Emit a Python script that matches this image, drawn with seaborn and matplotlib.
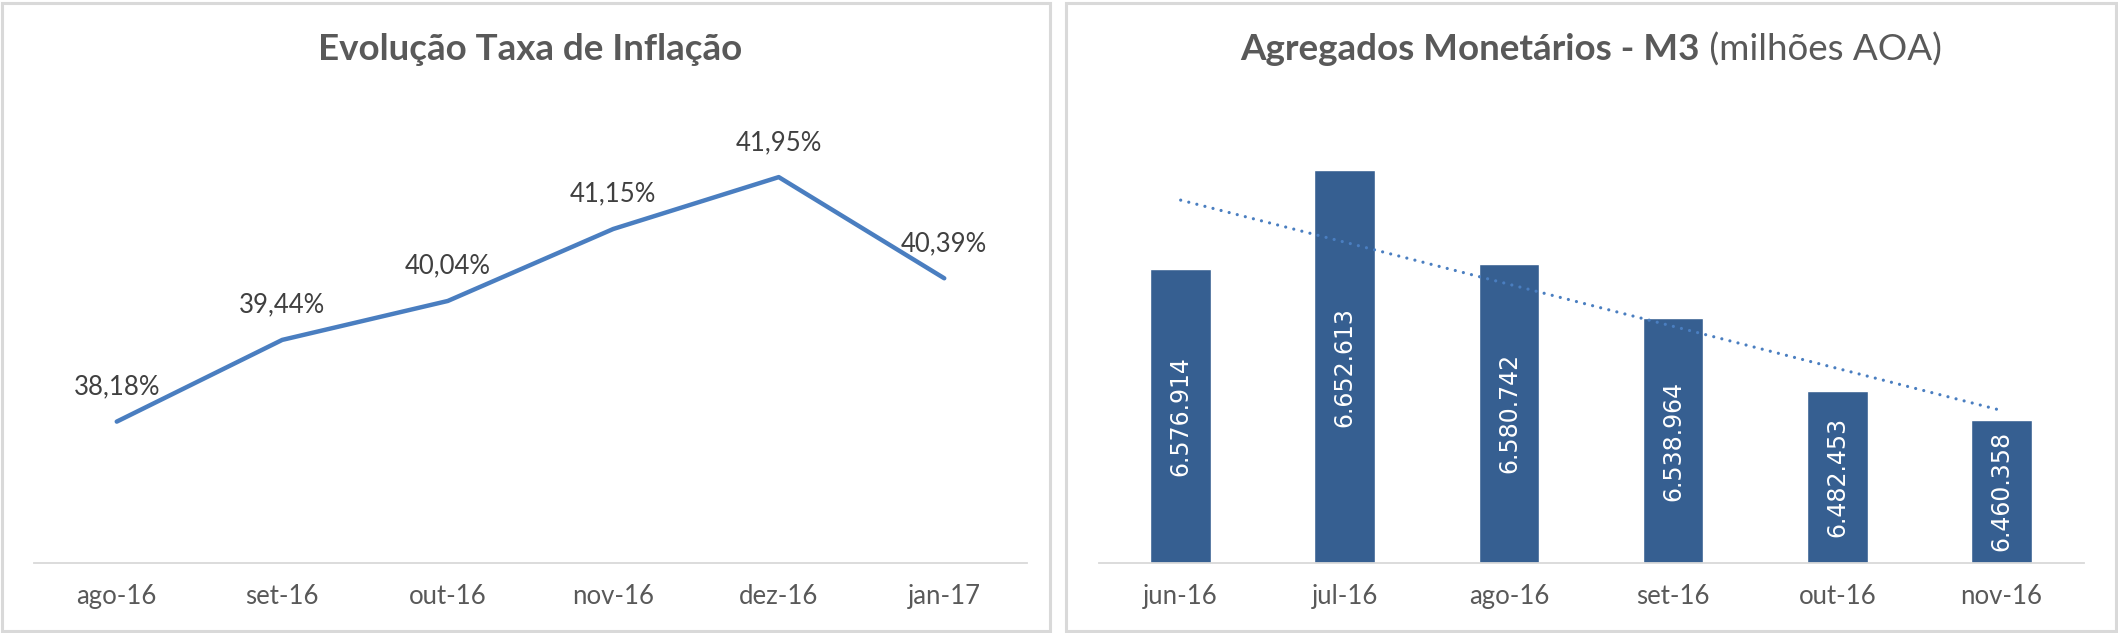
import matplotlib
matplotlib.use("Agg")
import matplotlib.pyplot as plt
from matplotlib.patches import Rectangle
import seaborn as sns
import pandas as pd
import numpy as np


# inflation data (left chart)
meses_inflacao = ["ago-16", "set-16", "out-16", "nov-16", "dez-16", "jan-17"]
taxa_inflacao = [38.18, 39.44, 40.04, 41.15, 41.95, 40.39]

# M3 data (right chart), millions AOA
meses_m3 = ["jun-16", "jul-16", "ago-16", "set-16", "out-16", "nov-16"]
valores_m3 = [6576914, 6652613, 6580742, 6538964, 6482453, 6460358]

LINE_COLOR = "#4A7EC0"
BAR_COLOR = "#365F91"
TEXT_COLOR = "#595959"
LABEL_COLOR = "#404040"
GRID_COLOR = "#D9D9D9"

sns.set_theme(style="white")
plt.rcParams["font.family"] = ["Lato", "DejaVu Sans"]


def fmt_pct(v):
    return f"{v:.2f}%".replace(".", ",")


def fmt_milhar(v):
    return f"{v:,}".replace(",", ".")


def style_axis(ax):
    for s in ["top", "right", "left"]:
        ax.spines[s].set_visible(False)
    ax.spines["bottom"].set_color(GRID_COLOR)
    ax.spines["bottom"].set_linewidth(1.3)
    ax.set_yticks([])
    ax.set_xlabel("")
    ax.set_ylabel("")
    ax.tick_params(axis="x", length=0, pad=15, labelsize=18.5, colors=TEXT_COLOR)
    ax.set_xlim(-0.5, 5.5)


fig = plt.figure(figsize=(21.18, 6.33), dpi=100)

# panel borders
for x0, x1 in [(2, 1050), (1066, 2116)]:
    fig.patches.append(
        Rectangle((x0 / 2118, 2 / 633), (x1 - x0) / 2118, 628 / 633,
                  transform=fig.transFigure, fill=False,
                  edgecolor=GRID_COLOR, linewidth=2.2)
    )

# left: inflation line
ax1 = fig.add_axes([34 / 2118, 1 - 563 / 633, (1027 - 34) / 2118, (563 - 109) / 633])
df_inf = pd.DataFrame({"mes": meses_inflacao, "taxa": taxa_inflacao})
sns.lineplot(data=df_inf, x="mes", y="taxa", sort=False, ax=ax1,
             color=LINE_COLOR, linewidth=3.2)
ax1.set_ylim(36, 43)
style_axis(ax1)
for i, v in enumerate(taxa_inflacao):
    ax1.annotate(fmt_pct(v), (i, v), xytext=(0, 25), textcoords="offset points",
                 ha="center", va="center", fontsize=18.5, color=LABEL_COLOR)
ax1.set_title("Evolução Taxa de Inflação", fontsize=26.5, fontweight="bold",
              color=TEXT_COLOR, y=1.0, pad=0)
ax1.title.set_position((0.5, 1 + (109 - 50) / (563 - 109)))
ax1.title.set_va("center")

# right: M3 bars + linear trend
ax2 = fig.add_axes([1098.6 / 2118, 1 - 563 / 633, (2083.5 - 1098.6) / 2118, (563 - 109) / 633])
df_m3 = pd.DataFrame({"mes": meses_m3, "valor": valores_m3})
sns.barplot(data=df_m3, x="mes", y="valor", ax=ax2, color=BAR_COLOR,
            width=0.37, saturation=1)
sns.regplot(x=np.arange(len(valores_m3)), y=np.array(valores_m3, dtype=float),
            ax=ax2, scatter=False, ci=None,
            line_kws={"color": LINE_COLOR, "linestyle": (0, (0.01, 2.6)),
                      "linewidth": 2.3, "dash_capstyle": "round"})
ax2.set_ylim(6350000, 6700000)
style_axis(ax2)
for i, v in enumerate(valores_m3):
    ax2.text(i, (6350000 + v) / 2, fmt_milhar(v), rotation=90, ha="center",
             va="center", color="white", fontsize=17, family="DejaVu Sans")

ty = 1 - 50 / 633
t_bold = fig.text(0, ty, "Agregados Monetários - M3", fontsize=26.5, fontweight="bold",
                  color=TEXT_COLOR, va="center", ha="left")
t_reg = fig.text(0, ty, " (milhões AOA)", fontsize=26.5, color=TEXT_COLOR,
                 va="center", ha="left")
fig.canvas.draw()
r = fig.canvas.get_renderer()
wb = t_bold.get_window_extent(r).width
wr = t_reg.get_window_extent(r).width
cx = (1098.6 + 2083.5) / 2
start = cx - (wb + wr) / 2
t_bold.set_x(start / 2118)
t_reg.set_x((start + wb) / 2118)

fig.savefig("out.png", dpi=100)
